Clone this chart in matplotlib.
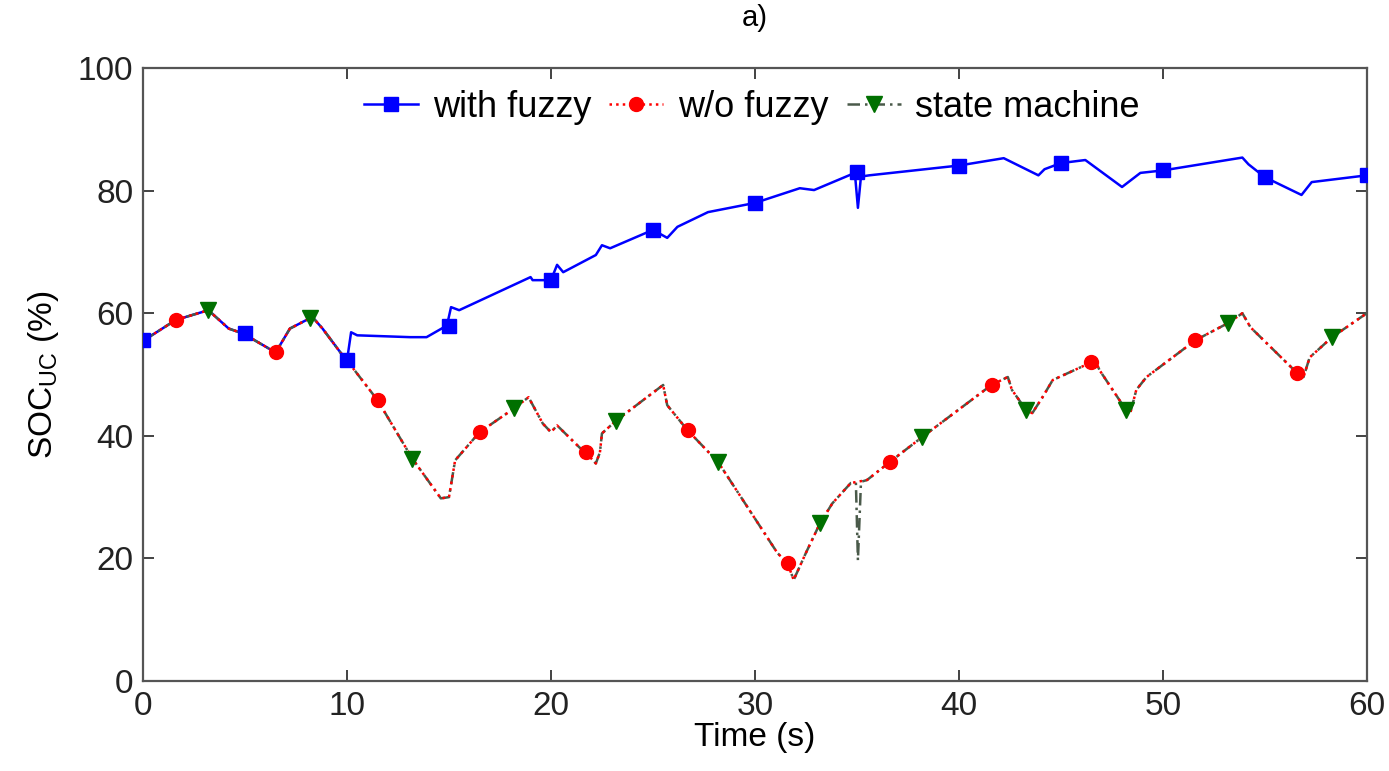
import matplotlib
matplotlib.use("Agg")
import matplotlib.pyplot as plt
from matplotlib.lines import Line2D

plt.rcParams['font.family'] = ['Liberation Sans', 'DejaVu Sans']
plt.rcParams['mathtext.default'] = 'regular'

# with fuzzy: line vertices
t_fuzzy = [0, 1.6, 3.2, 4.2, 4.9, 6.5, 7.2, 8.3, 8.8, 9.7, 10.0, 10.2, 10.5, 13.1, 13.9,
           14.9, 15.1, 15.5, 19.0, 19.1, 20.0, 20.3, 20.6, 22.2, 22.5, 22.9, 25.0, 25.7,
           26.2, 27.7, 30.0, 32.2, 32.9, 34.9, 35.05, 35.2, 35.6, 40.0, 42.2, 43.9, 44.2,
           45.0, 46.2, 48.0, 48.9, 50.0, 53.9, 54.2, 55.0, 56.8, 57.3, 60.0]
soc_fuzzy = [55.5, 58.9, 60.5, 57.5, 56.7, 53.6, 57.5, 59.4, 57.5, 53.5, 52.3, 56.9, 56.4, 56.1, 56.1,
             58.0, 61.0, 60.5, 65.9, 65.4, 65.4, 67.9, 66.7, 69.5, 71.1, 70.6, 73.6, 72.3,
             74.1, 76.5, 78.0, 80.4, 80.1, 82.9, 77.2, 82.3, 82.5, 84.1, 85.3, 82.5, 83.5,
             84.5, 85.0, 80.6, 82.9, 83.3, 85.4, 84.3, 82.2, 79.3, 81.4, 82.5]
t_fuzzy_mk = [0, 5, 10, 15, 20, 25, 30, 35, 40, 45, 50, 55, 60]
soc_fuzzy_mk = [55.6, 56.7, 52.3, 58.0, 65.4, 73.6, 78.0, 83.0, 84.1, 84.5, 83.3, 82.2, 82.5]

# w/o fuzzy
t_wo = [0, 1.6, 3.2, 4.2, 4.9, 6.5, 7.2, 8.3, 8.8, 9.7, 10.0, 11.5, 13.2, 14.6, 15.0, 15.3,
        16.5, 18.2, 18.9, 19.6, 20.0, 20.3, 21.4, 21.7, 22.2, 22.4, 22.5, 23.2, 25.5, 25.7,
        26.7, 28.2, 31.1, 31.6, 31.9, 32.5, 33.2, 33.8, 34.7, 35.5, 36.6, 38.2, 41.6, 42.4,
        42.6, 43.3, 43.6, 44.1, 44.6, 46.5, 46.7, 46.9, 48.2, 48.4, 48.7, 49.2, 51.6, 53.2,
        53.9, 54.3, 56.6, 56.9, 57.2, 58.3, 60.0]
soc_wo = [55.5, 58.9, 60.5, 57.5, 56.7, 53.6, 57.5, 59.4, 57.5, 53.5, 52.3, 45.8, 36.3, 29.8, 30.0, 36.0,
          40.6, 44.5, 46.3, 42.0, 40.6, 41.7, 38.1, 37.3, 35.5, 37.3, 40.4, 42.5, 48.3, 45.0,
          40.9, 35.7, 20.9, 19.2, 16.5, 20.9, 25.8, 29.0, 32.3, 32.8, 35.7, 39.8, 48.3, 49.6,
          47.5, 44.2, 43.7, 46.3, 49.1, 52.0, 52.2, 50.7, 44.2, 43.7, 47.5, 49.6, 55.6, 58.4,
          60.0, 57.7, 50.2, 49.6, 52.8, 56.1, 60.0]
t_wo_mk = [1.6, 6.5, 11.5, 16.5, 21.7, 26.7, 31.6, 36.6, 41.6, 46.5, 51.6, 56.6]
soc_wo_mk = [58.9, 53.6, 45.8, 40.6, 37.3, 40.9, 19.2, 35.7, 48.3, 52.0, 55.6, 50.2]

# state machine (same path, plus the short dip at 35 s)
t_sm = [0, 1.6, 3.2, 4.2, 4.9, 6.5, 7.2, 8.3, 8.8, 9.7, 10.0, 11.5, 13.2, 14.6, 15.0, 15.3,
        16.5, 18.2, 18.9, 19.6, 20.0, 20.3, 21.4, 21.7, 22.2, 22.4, 22.5, 23.2, 25.5, 25.7,
        26.7, 28.2, 31.1, 31.6, 31.9, 32.5, 33.2, 33.8, 34.7, 34.95, 35.05, 35.2, 35.5, 36.6,
        38.2, 41.6, 42.4, 42.6, 43.3, 43.6, 44.1, 44.6, 46.5, 46.7, 46.9, 48.2, 48.4, 48.7,
        49.2, 51.6, 53.2, 53.9, 54.3, 56.6, 56.9, 57.2, 58.3, 60.0]
soc_sm = [55.5, 58.9, 60.5, 57.5, 56.7, 53.6, 57.5, 59.4, 57.5, 53.5, 52.3, 45.8, 36.3, 29.8, 30.0, 36.0,
          40.6, 44.5, 46.3, 42.0, 40.6, 41.7, 38.1, 37.3, 35.5, 37.3, 40.4, 42.5, 48.3, 45.0,
          40.9, 35.7, 20.9, 19.2, 16.5, 20.9, 25.8, 29.0, 32.3, 32.4, 19.7, 32.5, 32.8, 35.7,
          39.8, 48.3, 49.6, 47.5, 44.2, 43.7, 46.3, 49.1, 52.0, 52.2, 50.7, 44.2, 43.7, 47.5,
          49.6, 55.6, 58.4, 60.0, 57.7, 50.2, 49.6, 52.8, 56.1, 60.0]
t_sm_mk = [3.2, 8.2, 13.2, 18.2, 23.2, 28.2, 33.2, 38.2, 43.3, 48.2, 53.2, 58.3]
soc_sm_mk = [60.5, 59.2, 36.3, 44.5, 42.5, 35.7, 25.8, 39.8, 44.2, 44.2, 58.4, 56.1]

c_blue = '#0000ff'
c_red = '#ff0000'
c_green = '#007000'

fig = plt.figure(figsize=(13.89, 7.71), dpi=100)
ax = fig.add_axes([0.103, 0.1167, 0.881, 0.795])

ax.plot(t_fuzzy, soc_fuzzy, color=c_blue, lw=1.8, zorder=2)
ax.plot(t_sm, soc_sm, color='#4a5a4a', lw=1.8, ls='-.', dashes=(5, 2, 1, 2), zorder=3)
ax.plot(t_wo, soc_wo, color=c_red, lw=1.8, ls=':', zorder=3)

ax.plot(t_fuzzy_mk, soc_fuzzy_mk, ls='none', marker='s', ms=10, color=c_blue, zorder=4)
ax.plot(t_wo_mk, soc_wo_mk, ls='none', marker='o', ms=10, color=c_red, zorder=4)
ax.plot(t_sm_mk, soc_sm_mk, ls='none', marker='v', ms=11, color=c_green, zorder=4)

ax.set_xlim(0, 60)
ax.set_ylim(0, 100)
ax.set_xticks(range(0, 61, 10))
ax.set_yticks(range(0, 101, 20))
ax.tick_params(direction='in', length=8, width=1.2, top=True, right=True,
               labelsize=24, pad=7, colors='#222222')
for s in ax.spines.values():
    s.set_color('#555555')
    s.set_linewidth(1.6)

ax.set_xlabel('Time (s)', fontsize=24, labelpad=0)
ax.set_ylabel('SOC$_{UC}$ (%)', fontsize=24, labelpad=12)
ax.set_title('a)', fontsize=21, pad=30)

handles = [
    Line2D([], [], color=c_blue, lw=1.8, marker='s', ms=10),
    Line2D([], [], color=c_red, lw=1.8, ls=':', marker='o', ms=10),
    Line2D([], [], color='#4a5a4a', lw=1.8, ls='-.', dashes=(5, 2, 1, 2),
           marker='v', ms=11, mfc=c_green, mec=c_green),
]
ax.legend(handles, ['with fuzzy', 'w/o fuzzy', 'state machine'], ncol=3, frameon=False,
          loc='center', bbox_to_anchor=(0.4975, 0.936), fontsize=26,
          handlelength=1.5, handletextpad=0.4, columnspacing=0.5)

fig.savefig('out.png', dpi=100)
